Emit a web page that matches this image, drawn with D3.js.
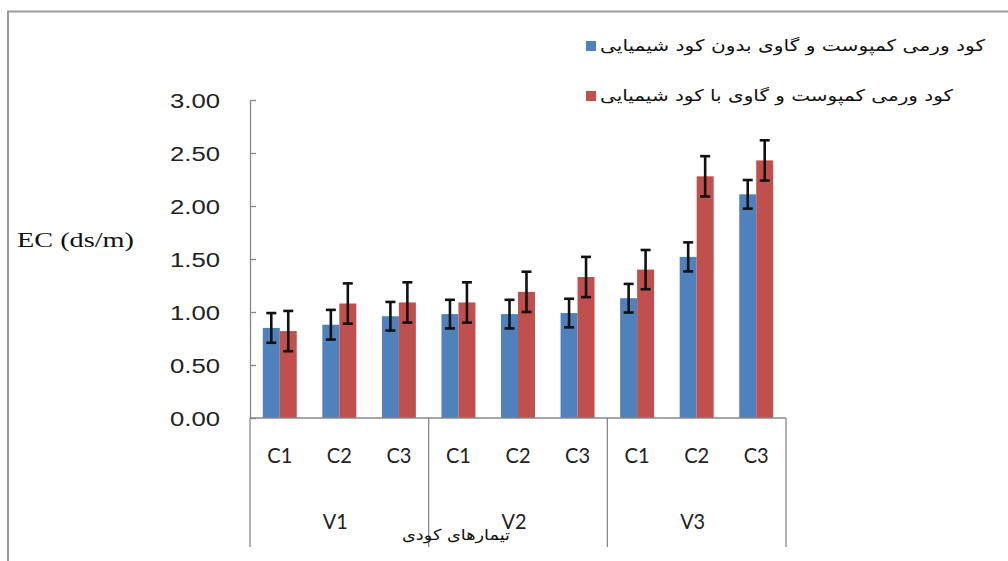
<!DOCTYPE html>
<html><head><meta charset="utf-8">
<script src="https://cdn.jsdelivr.net/npm/d3@7"></script>
<style>html,body{margin:0;padding:0;background:#fff}svg{display:block}</style>
</head><body>
<script>
const categories = ["C1","C2","C3","C1","C2","C3","C1","C2","C3"];
const groups = ["V1","V2","V3"];
const seriesNames = ["کود ورمی کمپوست و  گاوی بدون کود شیمیایی","کود ورمی کمپوست و  گاوی با کود شیمیایی"];
const blueValues = [0.85,0.88,0.96,0.98,0.98,0.99,1.13,1.52,2.11];
const blueErr    = [0.14,0.14,0.135,0.135,0.135,0.135,0.135,0.137,0.135];
const redValues  = [0.82,1.08,1.09,1.09,1.19,1.33,1.40,2.28,2.43];
const redErr     = [0.19,0.19,0.19,0.19,0.19,0.19,0.185,0.19,0.19];
const yTicks = [0,0.5,1,1.5,2,2.5,3];
const yTitle = "EC (ds/m)";
const xTitle = "تیمارهای کودی";
const colors = ["#4F81BD","#C0504D"];

(function(){
const W=1008,H=561;
const svg=d3.select("body").append("svg").attr("width",W).attr("height",H);
svg.append("rect").attr("width",W).attr("height",H).attr("fill","#fff");

// outer frame
svg.append("path").attr("d","M8,561 V11.5 H1008").attr("fill","none").attr("stroke","#9a9a9a").attr("stroke-width",2);

const pL=250,pR=786,pT=100,pB=418;
const y=d3.scaleLinear().domain([0,3]).range([pB,pT]);
const idx=d3.range(categories.length);
const x=d3.scaleBand().domain(idx).range([pL,pR]).paddingInner(0.43).paddingOuter(0.215);
const xs=d3.scaleBand().domain([0,1]).range([0,x.bandwidth()]);
const gx=d3.scaleBand().domain(groups).range([pL,pR]);

const axisColor="#888";
// y axis
const ya=svg.append("g").attr("transform",`translate(${pL},0)`)
  .call(d3.axisLeft(y).tickValues(yTicks).tickSizeInner(-6).tickSizeOuter(0).tickPadding(30).tickFormat(d3.format(".2f")));
ya.select(".domain").attr("stroke",axisColor).attr("stroke-width",1.3);
ya.selectAll(".tick line").attr("stroke",axisColor).attr("stroke-width",1.3);
ya.selectAll(".tick text").attr("font-family","Liberation Sans, Arial, sans-serif").attr("font-size",19.5)
  .attr("fill","#222").attr("dy","0.38em").attr("textLength",50).attr("lengthAdjust","spacingAndGlyphs");

// bars
const series=[{v:blueValues,e:blueErr},{v:redValues,e:redErr}];
series.forEach((s,si)=>{
  const g=svg.append("g");
  g.selectAll("rect").data(idx).join("rect")
    .attr("x",i=>x(i)+xs(si)).attr("width",xs.bandwidth())
    .attr("y",i=>y(s.v[i])).attr("height",i=>y(0)-y(s.v[i]))
    .attr("fill",colors[si]);
});
// error bars
series.forEach((s,si)=>{
  const g=svg.append("g").attr("stroke","#111").attr("stroke-width",2.6);
  idx.forEach(i=>{
    const cx=x(i)+xs(si)+xs.bandwidth()/2;
    const y1=y(s.v[i]+s.e[i]), y2=y(s.v[i]-s.e[i]);
    g.append("line").attr("x1",cx).attr("x2",cx).attr("y1",y1).attr("y2",y2);
    g.append("line").attr("x1",cx-5).attr("x2",cx+5).attr("y1",y1).attr("y2",y1);
    g.append("line").attr("x1",cx-5).attr("x2",cx+5).attr("y1",y2).attr("y2",y2);
  });
});

// category axis
svg.append("line").attr("x1",pL).attr("x2",pR).attr("y1",pB).attr("y2",pB).attr("stroke",axisColor).attr("stroke-width",1.5);
const seps=[pL].concat(groups.map(g=>gx(g)+gx.bandwidth()));
svg.selectAll(".sep").data(seps).join("line").attr("class","sep")
  .attr("x1",d=>d).attr("x2",d=>d).attr("y1",pB).attr("y2",547)
  .attr("stroke",axisColor).attr("stroke-width",1.3);

svg.selectAll(".clab").data(idx).join("text").attr("class","clab")
  .attr("x",i=>x(i)+x.bandwidth()/2).attr("y",462.5).attr("text-anchor","middle")
  .attr("font-family","Lato, 'Open Sans', sans-serif").attr("font-size",21).attr("fill","#222")
  .attr("textLength",25).attr("lengthAdjust","spacingAndGlyphs")
  .text(i=>categories[i]);
svg.selectAll(".vlab").data(groups).join("text").attr("class","vlab")
  .attr("x",g=>gx(g)+gx.bandwidth()/2-4).attr("y",528.5).attr("text-anchor","middle")
  .attr("font-family","Lato, 'Open Sans', sans-serif").attr("font-size",21).attr("fill","#222")
  .attr("textLength",25).attr("lengthAdjust","spacingAndGlyphs")
  .text(g=>g);

// titles
svg.append("text").attr("x",17).attr("y",247).attr("font-family","Liberation Serif, 'Times New Roman', serif")
  .attr("font-size",20).attr("fill","#111").attr("textLength",117).attr("lengthAdjust","spacingAndGlyphs").text(yTitle);
svg.append("text").attr("x",456).attr("y",540).attr("text-anchor","middle").attr("direction","rtl")
  .attr("font-family","DejaVu Sans, sans-serif").attr("font-size",15).attr("fill","#111")
  .attr("textLength",108).attr("lengthAdjust","spacingAndGlyphs").text(xTitle);

// legend
const legY=[41,91], legEnd=[985,953];
seriesNames.forEach((n,i)=>{
  svg.append("rect").attr("x",586).attr("y",legY[i]).attr("width",10).attr("height",10).attr("fill",colors[i]);
  svg.append("text").attr("x",legEnd[i]).attr("y",legY[i]+10).attr("text-anchor","start").attr("direction","rtl")
    .attr("font-family","DejaVu Sans, sans-serif").attr("font-size",16).attr("fill","#111")
    .attr("textLength",legEnd[i]-600).attr("lengthAdjust","spacingAndGlyphs").text(n);
});
})();
</script>
</body></html>
